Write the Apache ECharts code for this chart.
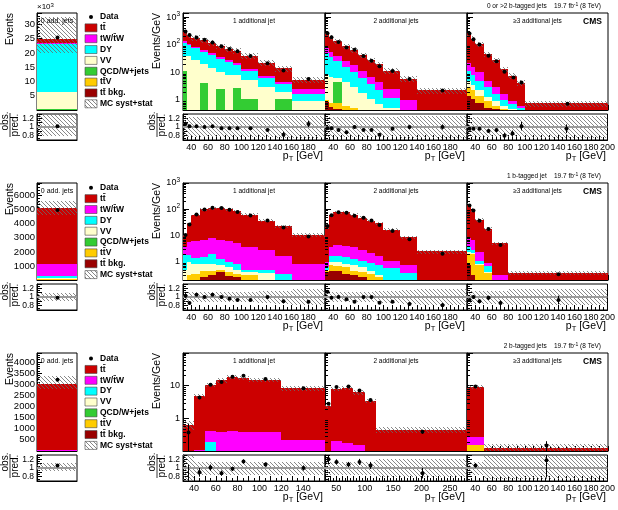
<!DOCTYPE html>
<html>
<head>
<meta charset="utf-8">
<script src="https://cdn.jsdelivr.net/npm/echarts@6/dist/echarts.min.js"></script>
<style>
  html, body { margin: 0; padding: 0; background: #fff; }
  #chart { width: 618px; height: 510px; }
</style>
</head>
<body>
<div id="chart"></div>
<script>
// ---------- data (Events/GeV for the pT panels, Events for the 0-jet bins) ----------
// row 1: 0 or >2 b-tagged jets
var r1s_edges = [0, 1];
var r1s_tt = [1400], r1s_tw = [300], r1s_dy = [16900], r1s_vv = [6000], r1s_qcd = [400], r1s_ttv = [0], r1s_ttbkg = [0];
var r1s_data = [25400], r1s_ratio = [1.02], r1s_rerr = [0.01], r1s_lo = [0.8], r1s_hi = [1.3];

var r1a_edges = [30, 35, 40, 50, 60, 70, 80, 90, 100, 120, 140, 160, 200];
var r1a_tt = [145, 110, 95, 83, 70, 54, 45, 38, 26.5, 14.5, 9.5, 2.9];
var r1a_tw = [17, 12, 10, 9, 7, 6, 4, 3, 2, 1.2, 0.7, 0.8];
var r1a_dy = [80, 60, 47, 36, 27, 20, 15, 11, 6.3, 3.3, 1.8, 0.7];
var r1a_vv = [27, 38, 28, 15.8, 14, 7.6, 8, 5.4, 4.15, 3.0, 0.95, 0.9];
var r1a_qcd = [11, 0, 0, 4.2, 0, 2.4, 0, 2.6, 1.05, 0, 1.05, 0];
var r1a_ttv = [0, 0, 0, 0, 0, 0, 0, 0, 0, 0, 0, 0];
var r1a_ttbkg = [0, 0, 0, 0, 0, 0, 0, 0, 0, 0, 0, 0];
var r1a_data = [300, 225, 182, 150, 120, 88, 70, 58, 39, 21, 11.5, 5.7];
var r1a_ratio = [1.07, 1.02, 1.02, 1.0, 1.02, 0.97, 0.97, 0.97, 0.97, 0.93, 0.82, 1.07];
var r1a_rerr = [0.02, 0.02, 0.02, 0.02, 0.02, 0.02, 0.02, 0.03, 0.03, 0.04, 0.07, 0.07];
var r1a_lo = [0.78, 0.78, 0.78, 0.78, 0.78, 0.78, 0.78, 0.78, 0.78, 0.78, 0.75, 0.75];
var r1a_hi = [1.22, 1.22, 1.22, 1.22, 1.22, 1.22, 1.22, 1.22, 1.22, 1.22, 1.25, 1.25];

var r1b_edges = [30, 35, 40, 50, 60, 70, 80, 90, 100, 120, 140, 200];
var r1b_tt = [187, 135, 95, 64, 48, 31, 21, 15.5, 9.1, 4.75, 1.9];
var r1b_tw = [28, 20, 15, 10, 7.5, 4.8, 3.3, 2.2, 1.2, 0.55, 0.1];
var r1b_dy = [42, 28, 19, 11.5, 7.5, 4.4, 2.6, 1.6, 0.7, 0.2, 0.1];
var r1b_vv = [7, 6, 1.5, 3.9, 2.5, 1.45, 0.85, 0.52, 0.37, 0.15, 0.08];
var r1b_qcd = [0, 0, 3.7, 0, 0, 0, 0, 0, 0, 0, 0];
var r1b_ttv = [0.15, 0.25, 0.3, 0.25, 0.2, 0.15, 0.1, 0.08, 0.05, 0.02, 0.01];
var r1b_ttbkg = [0.85, 0.55, 0.45, 0.35, 0.3, 0.2, 0.15, 0.1, 0.08, 0.03, 0.01];
var r1b_data = [257, 184, 126, 79, 66, 39, 26, 16.5, 11, 5.7, 2.2];
var r1b_ratio = [0.97, 0.97, 0.93, 0.88, 1.0, 0.93, 0.93, 0.82, 0.96, 1.0, 1.0];
var r1b_rerr = [0.02, 0.02, 0.02, 0.02, 0.03, 0.03, 0.03, 0.04, 0.04, 0.05, 0.06];
var r1b_lo = [0.78, 0.78, 0.78, 0.78, 0.78, 0.78, 0.78, 0.78, 0.78, 0.75, 0.75];
var r1b_hi = [1.22, 1.22, 1.22, 1.22, 1.22, 1.22, 1.22, 1.22, 1.22, 1.25, 1.25];

var r1c_edges = [30, 35, 40, 50, 60, 70, 80, 90, 100, 200];
var r1c_tt = [243, 149, 95, 39, 24, 11.4, 6.6, 3.6, 0.75];
var r1c_tw = [11, 8, 5, 2, 1.3, 0.6, 0.2, 0.1, 0];
var r1c_dy = [6, 4.5, 2.8, 1.7, 0.8, 0.4, 0.25, 0.2, 0];
var r1c_vv = [2, 1.3, 0.8, 0.4, 0.3, 0.15, 0.1, 0.1, 0];
var r1c_qcd = [0, 0, 0, 0, 0, 0, 0, 0, 0];
var r1c_ttv = [1.6, 1.1, 0.6, 0.4, 0.15, 0.15, 0.15, 0.1, 0];
var r1c_ttbkg = [1.4, 1.1, 0.8, 0.5, 0.45, 0.3, 0.2, 0.1, 0];
var r1c_data = [254, 158, 101, 40, 25, 10.4, 6.4, 4.3, 0.72];
var r1c_ratio = [0.96, 0.96, 0.96, 0.91, 0.93, 0.8, 0.85, 1.02, 0.96];
var r1c_rerr = [0.02, 0.03, 0.03, 0.04, 0.05, 0.06, 0.07, 0.1, 0.1];
var r1c_lo = [0.78, 0.78, 0.78, 0.78, 0.78, 0.78, 0.78, 0.78, 0.75];
var r1c_hi = [1.22, 1.22, 1.22, 1.22, 1.22, 1.22, 1.22, 1.22, 1.25];

// row 2: 1 b-tagged jet
var r2s_edges = [0, 1];
var r2s_tt = [3990], r2s_tw = [830], r2s_dy = [170], r2s_vv = [60], r2s_qcd = [10], r2s_ttv = [15], r2s_ttbkg = [25];
var r2s_data = [4980], r2s_ratio = [0.98], r2s_rerr = [0.015], r2s_lo = [0.9], r2s_hi = [1.1];

var r2a_edges = [30, 35, 40, 50, 60, 70, 80, 90, 100, 120, 140, 160, 200];
var r2a_tt = [6.5, 24.6, 53.8, 91, 102, 105, 94, 79, 58.3, 34.2, 20.3, 9.35];
var r2a_tw = [1.9, 3.6, 4.8, 5.5, 5.9, 5.7, 5.0, 4.15, 3.2, 2.3, 1.37, 0.65];
var r2a_dy = [1.3, 0.8, 0.55, 0.65, 1.05, 0.55, 0.4, 0.35, 0.1, 0.14, 0.13, 0.1];
var r2a_vv = [0.3, 0.7, 0.5, 0.4, 0.39, 0.25, 0.18, 0.15, 0.1, 0.16, 0.1, 0.05];
var r2a_qcd = [0, 0, 0, 0, 0, 0, 0, 0, 0, 0, 0, 0];
var r2a_ttv = [0.1, 0.15, 0.15, 0.2, 0.16, 0.1, 0.14, 0.1, 0.15, 0.1, 0.05, 0.02];
var r2a_ttbkg = [0.1, 0.15, 0.2, 0.25, 0.3, 0.4, 0.28, 0.25, 0.15, 0.1, 0.05, 0.03];
var r2a_data = [10.5, 26, 63, 98, 115, 112, 96, 78, 58, 37, 20, 9.1];
var r2a_ratio = [1.03, 0.86, 1.05, 1.0, 1.05, 1.0, 0.96, 0.93, 0.93, 1.0, 0.9, 0.89];
var r2a_rerr = [0.06, 0.04, 0.02, 0.02, 0.02, 0.02, 0.02, 0.02, 0.02, 0.03, 0.03, 0.04];
var r2a_lo = [0.88, 0.88, 0.88, 0.88, 0.88, 0.88, 0.88, 0.88, 0.88, 0.86, 0.85, 0.82];
var r2a_hi = [1.12, 1.12, 1.12, 1.12, 1.12, 1.12, 1.12, 1.12, 1.12, 1.14, 1.15, 1.18];

var r2b_edges = [30, 35, 40, 50, 60, 70, 80, 90, 100, 120, 140, 200];
var r2b_tt = [20, 54.5, 72.5, 72, 58.5, 45.2, 34.8, 27.3, 15.4, 7.75, 2.25];
var r2b_tw = [0.4, 1.85, 2.8, 2.5, 2.2, 1.7, 1.3, 0.95, 0.55, 0.37, 0.1];
var r2b_dy = [0.1, 0.7, 0.75, 0.7, 0.55, 0.5, 0.45, 0.45, 0.4, 0.28, 0.05];
var r2b_vv = [0.05, 0.2, 0.25, 0.2, 0.29, 0.2, 0.1, 0.05, 0.05, 0.05, 0.03];
var r2b_qcd = [0, 0, 0, 0, 0, 0, 0, 0, 0, 0, 0];
var r2b_ttv = [0.05, 0.29, 0.27, 0.25, 0.16, 0.15, 0.15, 0.1, 0.02, 0.02, 0.01];
var r2b_ttbkg = [0.4, 0.46, 0.43, 0.35, 0.3, 0.25, 0.2, 0.15, 0.08, 0.03, 0.01];
var r2b_data = [23, 59, 77, 73, 56, 47, 37, 25, 14.7, 7.2, 2.0];
var r2b_ratio = [1.12, 0.98, 1.0, 0.95, 0.89, 1.0, 1.0, 0.87, 0.89, 0.84, 0.81];
var r2b_rerr = [0.04, 0.02, 0.02, 0.02, 0.02, 0.03, 0.03, 0.03, 0.03, 0.04, 0.05];
var r2b_lo = [0.86, 0.88, 0.88, 0.88, 0.88, 0.88, 0.88, 0.86, 0.86, 0.84, 0.82];
var r2b_hi = [1.14, 1.12, 1.12, 1.12, 1.12, 1.12, 1.12, 1.14, 1.14, 1.16, 1.18];

var r2c_edges = [30, 35, 40, 50, 60, 80, 200];
var r2c_tt = [142, 88.5, 37.6, 17.1, 4.7, 0.35];
var r2c_tw = [4.3, 3.8, 1.3, 0.22, 0.2, 0.02];
var r2c_dy = [1.45, 0.6, 0.3, 0.28, 0.05, 0];
var r2c_vv = [0.3, 0.1, 0.05, 0.02, 0, 0];
var r2c_qcd = [0, 0, 0, 0, 0, 0];
var r2c_ttv = [1.2, 1.7, 0.65, 0.33, 0.05, 0];
var r2c_ttbkg = [0.75, 0.3, 0.1, 0.05, 0, 0];
var r2c_data = [140, 90, 36, 17.5, 4.3, 0.33];
var r2c_ratio = [0.93, 1.0, 0.9, 0.98, 0.86, 0.93];
var r2c_rerr = [0.03, 0.04, 0.04, 0.05, 0.06, 0.1];
var r2c_lo = [0.85, 0.85, 0.85, 0.85, 0.85, 0.82];
var r2c_hi = [1.15, 1.15, 1.15, 1.15, 1.15, 1.18];

// row 3: 2 b-tagged jets
var r3s_edges = [0, 1];
var r3s_tt = [2940], r3s_tw = [60], r3s_dy = [0], r3s_vv = [0], r3s_qcd = [0], r3s_ttv = [0], r3s_ttbkg = [0];
var r3s_data = [3200], r3s_ratio = [1.06], r3s_rerr = [0.02], r3s_lo = [0.93], r3s_hi = [1.12];

var r3a_edges = [30, 40, 50, 60, 70, 80, 90, 120, 160];
var r3a_tt = [0.65, 4.7, 9.9, 13.9, 18.1, 16.6, 14.1, 8.0];
var r3a_tw = [0, 0.11, 0.22, 0.38, 0.42, 0.4, 0.38, 0.22];
var r3a_dy = [0, 0, 0.2, 0, 0, 0, 0, 0];
var r3a_vv = [0, 0, 0, 0, 0, 0, 0, 0];
var r3a_qcd = [0, 0, 0, 0, 0, 0, 0, 0];
var r3a_ttv = [0, 0, 0, 0, 0, 0, 0, 0];
var r3a_ttbkg = [0, 0, 0, 0, 0, 0, 0, 0];
var r3a_data = [0.38, 4.3, 10.4, 12.6, 18.2, 19.6, 15.7, 8.2];
var r3a_ratio = [0.58, 0.9, 1.01, 0.88, 0.98, 1.15, 1.08, 1.0];
var r3a_rerr = [0.5, 0.1, 0.07, 0.06, 0.05, 0.05, 0.05, 0.06];
var r3a_lo = [0.7, 0.85, 0.85, 0.85, 0.85, 0.85, 0.85, 0.85];
var r3a_hi = [1.3, 1.15, 1.15, 1.15, 1.15, 1.15, 1.15, 1.15];

var r3b_edges = [30, 40, 60, 80, 100, 120, 280];
var r3b_tt = [2.4, 7.7, 8.4, 6.0, 3.4, 0.46];
var r3b_tw = [0, 0.21, 0.18, 0.16, 0, 0];
var r3b_dy = [0, 0, 0, 0, 0, 0];
var r3b_vv = [0, 0, 0, 0, 0, 0];
var r3b_qcd = [0, 0, 0, 0, 0, 0];
var r3b_ttv = [0, 0, 0, 0, 0, 0];
var r3b_ttbkg = [0, 0, 0, 0, 0, 0];
var r3b_data = [2.8, 9.0, 9.2, 7.0, 3.6, 0.4];
var r3b_ratio = [1.2, 1.14, 1.08, 1.14, 1.06, 0.88];
var r3b_rerr = [0.1, 0.06, 0.06, 0.07, 0.08, 0.12];
var r3b_lo = [0.85, 0.85, 0.85, 0.85, 0.85, 0.8];
var r3b_hi = [1.15, 1.15, 1.15, 1.15, 1.15, 1.2];

var r3c_edges = [30, 50, 200];
var r3c_tt = [8.6, 0.128], r3c_tw = [0.125, 0], r3c_dy = [0, 0], r3c_vv = [0, 0], r3c_qcd = [0, 0], r3c_ttv = [0.155, 0], r3c_ttbkg = [0, 0];
var r3c_data = [9.3, 0.155];
var r3c_ratio = [1.06, 1.18];
var r3c_rerr = [0.05, 0.4];
var r3c_lo = [0.85, 0.75];
var r3c_hi = [1.15, 1.3];

// ---------- styling ----------
var FONT = '"Liberation Sans", Arial, Helvetica, sans-serif';
var STACK = ['ttbkg', 'ttv', 'qcd', 'vv', 'dy', 'tw', 'tt'];          // bottom -> top
var STACK_COLORS = ['#990000', '#ffcc00', '#33cc33', '#ffffcc', '#00ffff', '#ff00ff', '#cc0000'];
var ROW_LABELS = ['0 or >2 b-tagged jets', '1 b-tagged jet', '2 b-tagged jets'];
var JET_LABELS = ['1 additional jet', '2 additional jets', '\u22653 additional jets'];
var LEG_NAMES = ['Data', 'tt\u0304', 'tW/t\u0304W', 'DY', 'VV', 'QCD/W+jets', 'tt\u0304V', 'tt\u0304 bkg.', 'MC syst+stat'];
var LEG_COLORS = [null, '#cc0000', '#ff00ff', '#00ffff', '#ffffcc', '#33cc33', '#ffcc00', '#990000', 'hatch'];

var ROWS = [
  {top: 13, bot: 110, rtop: 114, rbot: 140},
  {top: 183, bot: 280, rtop: 284, rbot: 310},
  {top: 353, bot: 451, rtop: 455, rbot: 481}
];
var COLS = [[37, 77], [183, 325], [325, 467], [467, 608]];
var LOG_MIN = [0.43, 0.2, 0.105], LOG_MAX = [1400, 1000, 95];
var SMALL_MAX = [34000, 6900, 4400], SMALL_STEP = [5000, 1000, 500];
var X_MAX = [[200, 200, 200], [200, 200, 200], [160, 280, 200]];
var X_LAB = [[20, 20, 20], [20, 20, 20], [20, 50, 20]];

// hatch pattern for MC uncertainty
var hc = document.createElement('canvas');
hc.width = 8; hc.height = 8;
var hctx = hc.getContext('2d');
hctx.strokeStyle = '#6a6a6a';
hctx.lineWidth = 0.8;
hctx.beginPath();
for (var c = -8; c <= 8; c += 4) { hctx.moveTo(c, 0); hctx.lineTo(c + 8, 8); }
hctx.stroke();
var HATCH = {image: hc, repeat: 'repeat'};

function panel(name) {
  var w = window;
  return {
    edges: w[name + '_edges'],
    stack: STACK.map(function (k) { return w[name + '_' + k]; }),
    data: w[name + '_data'], ratio: w[name + '_ratio'], rerr: w[name + '_rerr'],
    lo: w[name + '_lo'], hi: w[name + '_hi']
  };
}

var grids = [], xAxes = [], yAxes = [], series = [], graphics = [];
var black = {color: '#000', width: 1};

function rectSeries(gi, items, fill, z) {
  series.push({
    type: 'custom', xAxisIndex: gi, yAxisIndex: gi, z: z, silent: true,
    encode: {x: [0, 1], y: [2, 3]}, data: items,
    renderItem: function (params, api) {
      var cs = params.coordSys;
      var a = api.coord([api.value(0), api.value(3)]);
      var b = api.coord([api.value(1), api.value(2)]);
      // snap to whole pixels so neighbouring bins meet without seams
      var x0 = Math.round(a[0]), x1 = Math.round(b[0]);
      var y0 = Math.round(a[1]), y1 = Math.round(b[1]);
      var shape = echarts.graphic.clipRectByRect(
        {x: x0, y: y0, width: x1 - x0, height: y1 - y0},
        {x: cs.x, y: cs.y, width: cs.width, height: cs.height});
      return shape ? {type: 'rect', shape: shape, style: {fill: fill}} : null;
    }
  });
}

function pointSeries(gi, items, floor) {
  series.push({
    type: 'custom', xAxisIndex: gi, yAxisIndex: gi, z: 6, silent: true,
    encode: {x: 0, y: 1}, data: items,
    renderItem: function (params, api) {
      var cs = params.coordSys;
      var x = api.value(0), y = api.value(1), e = api.value(2);
      var p = api.coord([x, y]);
      var px = Math.round(p[0]) + 0.5;
      var yt = Math.max(api.coord([x, y + e])[1], cs.y);
      var yb = Math.min(api.coord([x, Math.max(y - e, floor)])[1], cs.y + cs.height);
      var kids = [];
      if (yb > yt) kids.push({type: 'line', shape: {x1: px, y1: yt, x2: px, y2: yb}, style: {stroke: '#000', lineWidth: 1}});
      if (p[1] >= cs.y && p[1] <= cs.y + cs.height) kids.push({type: 'circle', shape: {cx: px, cy: p[1], r: 2}, style: {fill: '#000'}});
      return {type: 'group', children: kids};
    }
  });
}

function unitLine(gi, x0, x1) {
  series.push({
    type: 'custom', xAxisIndex: gi, yAxisIndex: gi, z: 4, silent: true,
    encode: {x: [0, 1]}, data: [[x0, x1]],
    renderItem: function (params, api) {
      var a = api.coord([api.value(0), 1]), b = api.coord([api.value(1), 1]);
      return {type: 'line', shape: {x1: a[0], y1: a[1], x2: b[0], y2: b[1]}, style: {stroke: '#9a9a9a', lineWidth: 2}};
    }
  });
}

function logFmt(v) {
  var e = Math.log10(v), n = Math.round(e);
  if (Math.abs(e - n) > 1e-6 || n < 0) return '';
  if (n === 0) return '1';
  if (n === 1) return '10';
  return '10{sup|' + n + '}';
}

function txt(x, y, text, size, align, extra) {
  var el = {type: 'text', x: x, y: y, z: 100, silent: true,
    style: {text: text, fill: '#000', fontFamily: FONT, fontSize: size, align: align || 'left', verticalAlign: 'middle'}};
  if (extra) {
    if (extra.rotation) el.rotation = extra.rotation;
    ['fontWeight', 'rich', 'verticalAlign'].forEach(function (k) { if (extra[k]) el.style[k] = extra[k]; });
  }
  graphics.push(el);
}

ROWS.forEach(function (R, r) {
  ['s', 'a', 'b', 'c'].forEach(function (suf, k) {
    var p = panel('r' + (r + 1) + suf);
    var isLog = k > 0;
    var xmin = k ? 30 : 0, xmax = k ? X_MAX[r][k - 1] : 1;
    var floor = isLog ? 1e-4 : 0;
    var gm = grids.length;
    grids.push({left: COLS[k][0], width: COLS[k][1] - COLS[k][0], top: R.top, height: R.bot - R.top,
      show: true, borderColor: '#000', borderWidth: 1, backgroundColor: '#fff'});
    var gr = grids.length;
    grids.push({left: COLS[k][0], width: COLS[k][1] - COLS[k][0], top: R.rtop, height: R.rbot - R.rtop,
      show: true, borderColor: '#000', borderWidth: 1, backgroundColor: '#fff'});

    // main panel axes
    xAxes.push({gridIndex: gm, type: 'value', min: xmin, max: xmax, interval: k ? 10 : 1,
      axisLine: {show: true, lineStyle: black},
      axisTick: {show: k > 0, inside: true, length: 5, lineStyle: black},
      minorTick: {show: k > 0, splitNumber: 2, length: 3, lineStyle: black},
      axisLabel: {show: false}, splitLine: {show: false}});
    if (k === 0) {
      var step = SMALL_STEP[r];
      yAxes.push({gridIndex: gm, type: 'value', min: 0, max: SMALL_MAX[r], interval: step,
        axisLine: {show: true, lineStyle: black},
        axisTick: {inside: true, length: 5, lineStyle: black},
        minorTick: {show: true, splitNumber: 5, length: 3, lineStyle: black},
        splitLine: {show: false},
        axisLabel: {color: '#000', fontFamily: FONT, fontSize: 9.5, margin: 2,
          formatter: function (v) {
            if (v <= 0 || v % step !== 0) return '';
            return r === 0 ? String(v / 1000) : String(v);
          }}});
    } else {
      yAxes.push({gridIndex: gm, type: 'log', logBase: 10, min: LOG_MIN[r], max: LOG_MAX[r],
        axisLine: {show: true, lineStyle: black},
        axisTick: {inside: true, length: 6, lineStyle: black},
        splitLine: {show: false},
        axisLabel: {show: k === 1, color: '#000', fontFamily: FONT, fontSize: 9, margin: 3, formatter: logFmt,
          rich: {sup: {fontSize: 6.5, fontFamily: FONT, color: '#000', verticalAlign: 'top', padding: [0, 0, 6, 0]}}}});
    }

    // ratio panel axes
    var lstep = k ? X_LAB[r][k - 1] : 1;
    xAxes.push({gridIndex: gr, type: 'value', min: xmin, max: xmax, interval: k ? 10 : 1,
      axisLine: {show: true, lineStyle: black},
      axisTick: {show: k > 0, inside: true, length: 5, lineStyle: black},
      minorTick: {show: k > 0, splitNumber: 2, length: 3, lineStyle: black},
      splitLine: {show: false},
      axisLabel: {show: k > 0, color: '#000', fontFamily: FONT, fontSize: 9, margin: 3,
        formatter: function (v) {
          if (v % lstep !== 0) return '';
          if (v >= xmax && k !== 3) return '';
          return String(v);
        }}});
    yAxes.push({gridIndex: gr, type: 'value', min: 0.7, max: 1.3, interval: 0.1,
      axisLine: {show: true, lineStyle: black},
      axisTick: {inside: true, length: 5, lineStyle: black},
      minorTick: {show: true, splitNumber: 2, length: 3, lineStyle: black},
      splitLine: {show: false},
      axisLabel: {show: k <= 1, color: '#000', fontFamily: FONT, fontSize: 8.5, margin: 3,
        formatter: function (v) {
          if (Math.abs(v - 0.8) < 1e-6) return '0.8';
          if (Math.abs(v - 1) < 1e-6) return '1';
          if (Math.abs(v - 1.2) < 1e-6) return '1.2';
          return '';
        }}});

    // stacked MC
    var nb = p.edges.length - 1;
    var cum = [];
    for (var b = 0; b < nb; b++) cum.push(0);
    p.stack.forEach(function (vals, ci) {
      var items = [];
      vals.forEach(function (v, b) {
        if (!(v > 0)) return;
        var lo = cum[b], hi = cum[b] + v;
        cum[b] = hi;
        items.push([p.edges[b], p.edges[b + 1], lo > 0 ? lo : floor, hi]);
      });
      rectSeries(gm, items, STACK_COLORS[ci], 2);
    });
    // MC uncertainty band
    rectSeries(gm, cum.map(function (t, b) {
      return [p.edges[b], p.edges[b + 1], t * p.lo[b], t * p.hi[b]];
    }), HATCH, 3);
    // data
    pointSeries(gm, p.data.map(function (d, b) {
      return [(p.edges[b] + p.edges[b + 1]) / 2, d, d * p.rerr[b] / p.ratio[b]];
    }), floor || 1e-9);

    // ratio
    rectSeries(gr, p.lo.map(function (l, b) {
      return [p.edges[b], p.edges[b + 1], l, p.hi[b]];
    }), HATCH, 3);
    unitLine(gr, xmin, xmax);
    pointSeries(gr, p.ratio.map(function (v, b) {
      return [(p.edges[b] + p.edges[b + 1]) / 2, v, p.rerr[b]];
    }), -10);

    // panel texts
    if (k === 0) {
      txt(57, R.top + 8, '0 add. jets', 7, 'center');
    } else {
      var cx = (COLS[k][0] + COLS[k][1]) / 2;
      txt(cx, R.top + 8, JET_LABELS[k - 1], 6.5, 'center');
      txt(COLS[k][1] - 2, R.rbot + 16, 'p{sub|T} [GeV]', 10.5, 'right',
        {rich: {sub: {fontSize: 7.5, fontFamily: FONT, color: '#000', verticalAlign: 'bottom', padding: [5, 0, 0, 0]}}});
    }
  });

  // axis titles
  txt(10, R.top, 'Events', 10.5, 'right', {rotation: Math.PI / 2});
  txt(157, R.top, 'Events/GeV', 10.5, 'right', {rotation: Math.PI / 2});
  [[5.5, 15, 10], [152.5, 162, 157]].forEach(function (f) {
    txt(f[0], R.rtop + 7, 'obs.', 10, 'center', {rotation: Math.PI / 2});
    txt(f[1], R.rtop + 11, 'pred.', 10, 'center', {rotation: Math.PI / 2});
    graphics.push({type: 'line', z: 100, silent: true,
      shape: {x1: f[2], y1: R.rtop - 1, x2: f[2], y2: R.rtop + 23}, style: {stroke: '#000', lineWidth: 0.8}});
  });
  if (r === 0) {
    txt(37, R.top - 6, '\u00d710{sup|3}', 8, 'left',
      {rich: {sup: {fontSize: 6, fontFamily: FONT, color: '#000', verticalAlign: 'top', padding: [0, 0, 4, 0]}}});
  }

  // header
  txt(601, R.top - 7, ROW_LABELS[r] + '    19.7 fb{sup|-1} (8 TeV)', 6.5, 'right',
    {rich: {sup: {fontSize: 5, fontFamily: FONT, color: '#000', verticalAlign: 'top', padding: [0, 0, 3, 0]}}});
  txt(602, R.top + 9, 'CMS', 8.5, 'right', {fontWeight: 'bold'});

  // legend
  var ly0 = R.top + 4 + r * 0.8;
  LEG_NAMES.forEach(function (name, i) {
    var y = ly0 + i * 10.85;
    if (i === 0) {
      graphics.push({type: 'circle', z: 100, silent: true, shape: {cx: 91, cy: y, r: 2}, style: {fill: '#000'}});
    } else {
      graphics.push({type: 'rect', z: 100, silent: true, shape: {x: 85, y: y - 4, width: 12, height: 8},
        style: {fill: LEG_COLORS[i] === 'hatch' ? HATCH : LEG_COLORS[i], stroke: '#444', lineWidth: 0.6}});
    }
    txt(100, y, name, 8.5, 'left', {fontWeight: 'bold'});
  });
});

var chart = echarts.init(document.getElementById('chart'), null, {renderer: 'canvas'});
chart.setOption({
  animation: false,
  grid: grids,
  xAxis: xAxes,
  yAxis: yAxes,
  series: series,
  graphic: {elements: graphics}
});

// minor ticks (2..9 per decade) on the log axes, placed through the axis scale
var minor = [];
yAxes.forEach(function (ax, i) {
  if (ax.type !== 'log') return;
  var g = grids[ax.gridIndex];
  for (var d = -2; d <= 4; d++) {
    for (var m = 2; m <= 9; m++) {
      var v = m * Math.pow(10, d);
      if (v <= ax.min || v >= ax.max) continue;
      var py = Math.round(chart.convertToPixel({yAxisIndex: i}, v)) + 0.5;
      minor.push({type: 'line', z: 100, silent: true,
        shape: {x1: g.left, y1: py, x2: g.left + 3, y2: py}, style: {stroke: '#000', lineWidth: 1}});
    }
  }
});
chart.setOption({graphic: {elements: graphics.concat(minor)}});
</script>
</body>
</html>
